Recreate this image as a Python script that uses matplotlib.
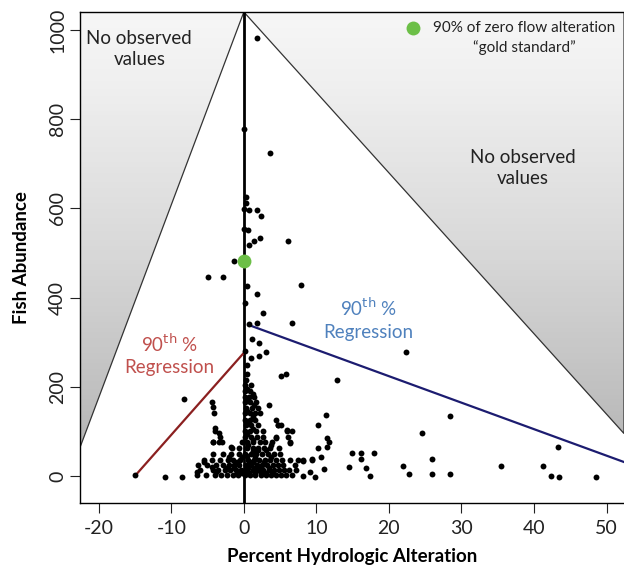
import matplotlib.pyplot as plt
import numpy as np
from matplotlib.patches import Polygon

plt.rcParams['font.family'] = ['Lato', 'DejaVu Sans']
plt.rcParams['axes.unicode_minus'] = False

# scatter points (percent alteration, abundance)
px = [1.8, 0.0, 3.6,
      0.3, 0.3, 0.0, 0.7, 1.8, 2.3, 0.0, 0.6, 0.7, 1.4, 2.2, 6.1, -1.4, -5.0, -2.9,
      7.9, 0.4, 1.8, 0.1, 2.6, 0.7, 1.8, 6.7, 1.1, 2.1, 0.1, 1.0, 2.1, 3.0, 0.4, 0.5, 5.1, 5.8,
      22.3, 12.8, 28.4, 11.3, 10.2, 24.5, 43.3, 11.4, 11.8, 11.4, 10.2, 10.7, 9.4, 8.1,
      14.9, 16.1, 17.9, 16.1, 14.5, 16.9, 17.4, 21.9, 22.7, 25.9, 26.0, 28.4, 35.5, 41.2,
      42.4, 43.5, 48.6, 11.0, 9.8, 9.1, 8.1,
      -15.0, -10.9, -8.5, -8.3, -4.4, -4.3, -4.1, -4.0, -3.4, -4.3, -3.0, -1.8,
      -5.5, -6.3, -6.5, -4.4, -3.8, 3.4, 4.7, 5.9, 6.3, 3.8, 4.5,
      -6.5, -5.2, -4.0, -3.1, -2.3, -1.5, -0.8, 0.2, 0.9, 1.6, 2.3, 3.0, 3.7, 4.4, 5.1, 5.8, 6.6,
      -6.1, -4.3, -3.5, -2.6, -1.9, -1.1, -0.4, 0.5, 1.2, 1.9, 2.7, 3.4, 4.1, 4.8, 5.5, 6.2, 7.2,
      -5.1, -3.8, -2.9, -2.1, -1.3, -0.6, 0.3, 1.0, 1.8, 2.5, 3.2, 4.0, 4.7, 5.4, 7.0,
      -5.5, -4.4, -3.3, -2.2, -1.5, -0.5, 0.6, 1.4, 2.1, 2.9, 3.6, 4.4, 5.2, 6.3, 7.4, 8.1, 9.4,
      -4.3, -2.9, -1.8, -0.7, 0.2, 1.0, 1.7, 2.5, 3.3, 4.2, 5.0,
      -1.6, -0.6, 0.4, 1.2, 2.0, 2.8, 3.6, 4.8,
      -4.3, -3.4, -0.3, 0.5, 1.3, 2.2, 2.9, 3.9, 6.3,
      -3.3, 0.2, 1.0, 1.8, 2.6, 4.5, 6.1,
      -4.0, 0.1, 0.8, 1.7, 2.6, 5.9, 6.6,
      0.3, 1.0, 1.9, 4.7, 5.1,
      0.2, 0.9, 1.6, 4.5,
      0.1, 0.8, 1.5, 2.2,
      0.3, 1.1, 2.0,
      0.2, 0.9, 1.7,
      0.1, 0.7, 1.4,
      0.2, 0.8, 0.1, 1.0, 0.3,
      # extra fill for the dense column and base
      0.5, 1.3, 0.6, 1.4, 0.5, 1.2, 0.6, 1.3, 0.5, 1.2, 0.6, 1.3, 0.5, 1.2, 0.6, 0.5,
      -1.0, -0.2, 0.7, 1.5, 2.3, 3.1, 4.0, -2.5, -1.4, 0.4, 1.4, 2.4, 3.4, -0.9, 0.9, 2.8,
      -2.0, -0.3, 1.6, 3.8, 2.0, 3.0]
py = [982, 778, 724,
      625, 613, 598, 596, 596, 584, 553, 551, 519, 526, 533, 526, 483, 447, 447,
      429, 425, 407, 389, 366, 341, 344, 344, 306, 299, 281, 265, 270, 278, 249, 229, 223, 229,
      279, 216, 135, 137, 115, 97, 65, 85, 76, 65, 63, 43, 38, 34,
      52, 51, 52, 38, 20, 18, 0, 22, 4, 38, 4, 4, 23, 22,
      0, -2, -2, 16, -2, 9, 0,
      2, -2, -2, 173, 166, 155, 141, 108, 97, 76, 76, 65,
      31, 25, 9, 20, 9, 160, 115, 103, 74, 70, 85,
      2, 2, 2, 2, 2, 2, 2, 2, 2, 2, 2, 2, 2, 2, 2, 2, 2,
      12, 12, 12, 12, 12, 12, 12, 12, 12, 12, 12, 12, 12, 12, 12, 12, 12,
      24, 24, 24, 24, 24, 24, 24, 24, 24, 24, 24, 24, 24, 24, 24,
      36, 36, 36, 36, 36, 36, 36, 36, 36, 36, 36, 36, 36, 36, 36, 36, 36,
      50, 50, 50, 50, 50, 50, 50, 50, 50, 50, 50,
      63, 63, 63, 63, 63, 63, 63, 63,
      75, 75, 75, 75, 75, 75, 75, 75, 75,
      88, 88, 88, 88, 88, 88, 88,
      100, 100, 100, 100, 100, 100, 100,
      113, 113, 113, 113, 113,
      125, 125, 125, 125,
      140, 140, 140, 140,
      153, 153, 153,
      165, 165, 165,
      178, 178, 178,
      190, 190, 203, 203, 215,
      196, 184, 171, 159, 146, 133, 119, 106, 94, 81, 69, 56, 44, 30, 18, 7,
      7, 7, 7, 7, 7, 7, 7, 18, 18, 18, 18, 18, 18, 30, 30, 30,
      43, 43, 43, 43, 57, 57]

# regression lines
red_x = [-15.0, 0.0]
red_y = [0, 276]
blue_x = [0.6, 52.4]
blue_y = [339, 31]

gold_x = [0.0]
gold_y = [483]

# no-observation triangles
left_tri = [(-22.6, 1041), (0, 1041), (-22.6, 63)]
right_tri = [(0, 1041), (52.4, 1041), (52.4, 95)]

xlim = (-22.6, 52.4)
ylim = (-61, 1041)

fig = plt.figure(figsize=(6.24, 5.70), dpi=100)
ax = fig.add_axes([0.128, 0.1175, 0.872, 0.8615])
ax.set_xlim(*xlim)
ax.set_ylim(*ylim)

grad = np.linspace(0, 1, 256).reshape(-1, 1)
for tri in [left_tri, right_tri]:
    im = ax.imshow(grad, cmap='Greys', vmin=-0.2, vmax=2.5, aspect='auto',
                   extent=[xlim[0], xlim[1], ylim[0], ylim[1]], origin='upper', zorder=0)
    poly = Polygon(tri, closed=True, facecolor='none', edgecolor='#333333', lw=0.9, zorder=1)
    ax.add_patch(poly)
    im.set_clip_path(poly)

ax.axvline(0, color='black', lw=2.0, zorder=2)
ax.plot(red_x, red_y, color='#8b2020', lw=1.6, zorder=3)
ax.plot(blue_x, blue_y, color='#1c1c70', lw=1.6, zorder=3)
ax.scatter(px, py, s=18, color='black', zorder=4, linewidths=0)
ax.scatter(gold_x, gold_y, s=100, color='#6cbf47', zorder=5, linewidths=0)

# legend-like annotation
ax.scatter([23.3], [1006], s=100, color='#6cbf47', zorder=5, linewidths=0, clip_on=False)
ax.text(38.7, 1006, '90% of zero flow alteration', ha='center', va='center',
        fontsize=11, color='#222222')
ax.text(38.7, 961, '\u201cgold standard\u201d', ha='center', va='center',
        fontsize=11, color='#222222')

ax.text(-14.4, 958, 'No observed\nvalues', ha='center', va='center', fontsize=13.5,
        color='#222222', linespacing=1.3)
ax.text(38.5, 690, 'No observed\nvalues', ha='center', va='center', fontsize=13.5,
        color='#222222', linespacing=1.3)
ax.text(-10.3, 272, '90$^{\\rm th}$ %\nRegression', ha='center', va='center', fontsize=13.5,
        color='#c0504d', linespacing=1.3)
ax.text(17.2, 352, '90$^{\\rm th}$ %\nRegression', ha='center', va='center', fontsize=13.5,
        color='#4f81bd', linespacing=1.3)

ax.set_xticks([-20, -10, 0, 10, 20, 30, 40, 50])
ax.set_yticks([0, 200, 400, 600, 800, 1000])
ax.tick_params(axis='both', direction='out', length=7, width=0.8, labelsize=14, colors='#222222')
ax.tick_params(axis='x', pad=5)
ax.tick_params(axis='y', pad=3)
for lab in ax.get_yticklabels():
    lab.set_rotation(90)
    lab.set_va('center')
ax.spines['right'].set_visible(False)
for s in ['left', 'top', 'bottom']:
    ax.spines[s].set_linewidth(1.0)

ax.set_xlabel('Percent Hydrologic Alteration', fontsize=13.5, fontweight='bold', labelpad=8)
ax.set_ylabel('Fish Abundance', fontsize=13.5, fontweight='bold', labelpad=14)

fig.savefig('out.png', dpi=100)
